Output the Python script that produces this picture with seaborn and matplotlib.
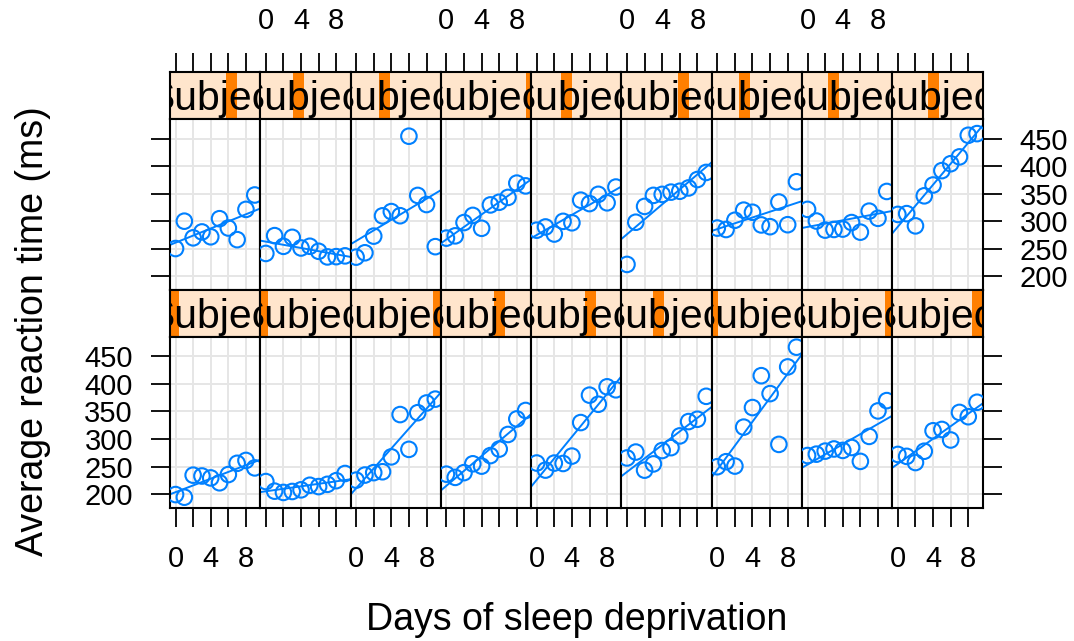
import matplotlib
matplotlib.use("Agg")
import matplotlib.pyplot as plt
from matplotlib.patches import Rectangle
import seaborn as sns

sns.set_style("white")
plt.rcParams['font.family'] = ['Liberation Sans', 'DejaVu Sans']
plt.rcParams['text.color'] = 'black'
plt.rcParams['xtick.color'] = 'black'
plt.rcParams['ytick.color'] = 'black'

# sleepstudy: reaction time (ms) per day of sleep deprivation
days = [0, 1, 2, 3, 4, 5, 6, 7, 8, 9]
r308 = [249.6, 258.7, 250.8, 321.4, 356.9, 414.7, 382.2, 290.1, 430.6, 466.4]
r309 = [222.7, 205.3, 203.0, 204.7, 207.7, 216.0, 213.6, 217.7, 224.3, 237.3]
r310 = [199.1, 194.3, 234.3, 232.8, 229.3, 220.5, 235.4, 255.8, 261.0, 247.5]
r330 = [321.5, 300.4, 283.9, 285.1, 285.8, 297.6, 280.2, 318.3, 305.3, 354.0]
r331 = [287.6, 285.0, 301.8, 320.1, 316.3, 293.3, 290.1, 334.8, 293.7, 371.6]
r332 = [234.9, 242.8, 273.0, 309.8, 317.5, 310.0, 454.2, 346.8, 330.3, 253.9]
r333 = [283.8, 289.6, 276.8, 299.8, 297.2, 338.2, 332.0, 348.8, 333.4, 362.0]
r334 = [265.5, 276.2, 243.4, 254.7, 279.0, 284.2, 305.5, 331.5, 335.7, 377.3]
r335 = [241.6, 273.9, 254.5, 270.8, 251.5, 254.6, 245.5, 235.3, 235.8, 237.2]
r337 = [312.4, 313.8, 291.6, 346.1, 365.7, 391.8, 404.3, 416.7, 455.9, 458.9]
r349 = [236.1, 230.3, 238.9, 254.9, 250.7, 269.8, 281.6, 308.1, 336.3, 351.6]
r350 = [256.3, 243.5, 256.2, 255.5, 268.9, 329.7, 379.4, 362.9, 394.5, 389.1]
r351 = [250.5, 300.1, 269.9, 280.6, 271.8, 304.6, 287.7, 266.6, 321.5, 347.6]
r352 = [221.7, 298.2, 326.9, 346.9, 348.7, 352.8, 354.4, 360.4, 375.6, 388.5]
r369 = [271.9, 268.4, 257.2, 277.7, 314.8, 317.2, 298.1, 348.1, 340.3, 366.5]
r370 = [225.3, 234.5, 238.9, 240.5, 267.5, 344.2, 281.1, 347.6, 365.2, 372.2]
r371 = [269.9, 272.4, 277.9, 281.8, 279.2, 284.5, 259.3, 304.6, 350.8, 369.5]
r372 = [269.4, 273.5, 297.6, 310.6, 287.2, 329.6, 334.5, 343.2, 369.1, 364.1]

top_panels = [r351, r335, r332, r372, r333, r352, r331, r330, r337]
bottom_panels = [r310, r309, r370, r349, r350, r334, r308, r371, r369]
# position of the orange level marker in each strip (fraction of strip width)
top_marks = [0.678, 0.426, 0.377, 1.0, 0.39, 0.688, 0.36, 0.345, 0.453]
bottom_marks = [0.037, 0.026, 0.972, 0.651, 0.657, 0.409, 0.004, 0.982, 0.949]

x_ticks = [0, 2, 4, 6, 8]
x_ticklabels = ['0', '', '4', '', '8']
y_ticks = [200, 250, 300, 350, 400, 450]

BLUE = '#0080FF'
W, H = 1074, 641
fig = plt.figure(figsize=(W / 100, H / 100), dpi=100)


def box(left, top, width, height):
    return [left / W, 1 - (top + height) / H, width / W, height / H]


x_left, pw = 170.0, 90.29
xlim = (-0.63, 9.63)
ylim = (175.3, 485.4)
tick_kw = dict(direction='out', length=13.7, width=1.3, labelsize=21, pad=13)

rows = [
    (top_panels, top_marks, 72.3, 119.0, 290.0, True),
    (bottom_panels, bottom_marks, 290.0, 336.7, 507.7, False),
]

for panels, marks, s_top, s_bot, p_bot, is_top in rows:
    for c, vals in enumerate(panels):
        # strip
        sax = fig.add_axes(box(x_left + c * pw, s_top, pw, s_bot - s_top))
        sax.set_facecolor('#FFE5CC')
        sax.set_xlim(xlim)
        sax.set_ylim(0, 1)
        sax.add_patch(Rectangle((marks[c] - 0.0625, 0), 0.125, 1, transform=sax.transAxes,
                                color='#FF7F00', lw=0, zorder=1))
        sax.text(0.5, 0.19, 'Subject', transform=sax.transAxes, ha='center', va='baseline',
                 fontsize=29.5, clip_on=True, zorder=2)
        sax.set_yticks([])
        for sp in sax.spines.values():
            sp.set_linewidth(1.5)
            sp.set_color('black')
            sp.set_zorder(5)
        if is_top:
            sax.set_xticks(x_ticks)
            sax.set_xticklabels(x_ticklabels)
            sax.tick_params(axis='x', bottom=False, labelbottom=False, top=True,
                            labeltop=(c % 2 == 1), **tick_kw)
        else:
            sax.set_xticks([])

        # data panel
        ax = fig.add_axes(box(x_left + c * pw, s_bot, pw, p_bot - s_bot))
        ax.set_xlim(xlim)
        ax.set_ylim(ylim)
        ax.set_xticks(x_ticks)
        ax.set_xticklabels(x_ticklabels)
        ax.set_yticks(y_ticks)
        ax.grid(True, color='#E6E6E6', lw=1.4)
        ax.set_axisbelow(True)
        sns.regplot(x=days, y=vals, ax=ax, scatter=False, ci=None, truncate=False,
                    line_kws=dict(color=BLUE, lw=1.4))
        sns.scatterplot(x=days, y=vals, ax=ax, s=125, facecolor='none', edgecolor=BLUE,
                        linewidth=1.5, zorder=3)
        ax.set_xlim(xlim)
        ax.set_ylim(ylim)
        ax.set_xlabel('')
        ax.set_ylabel('')
        for sp in ax.spines.values():
            sp.set_linewidth(1.5)
            sp.set_color('black')
        ax.tick_params(axis='x', top=False, labeltop=False, bottom=not is_top,
                       labelbottom=(not is_top and c % 2 == 0), **tick_kw)
        ax.tick_params(axis='y', left=(c == 0), right=(c == 8),
                       labelleft=(c == 0 and not is_top),
                       labelright=(c == 8 and is_top), **tick_kw)

fig.text(576.3 / W, 1 - 620 / H, 'Days of sleep deprivation', ha='center', va='center', fontsize=27)
fig.text(33 / W, 1 - 331 / H, 'Average reaction time (ms)', ha='center', va='center',
         rotation=90, fontsize=27)

fig.savefig('out.png', dpi=100)
